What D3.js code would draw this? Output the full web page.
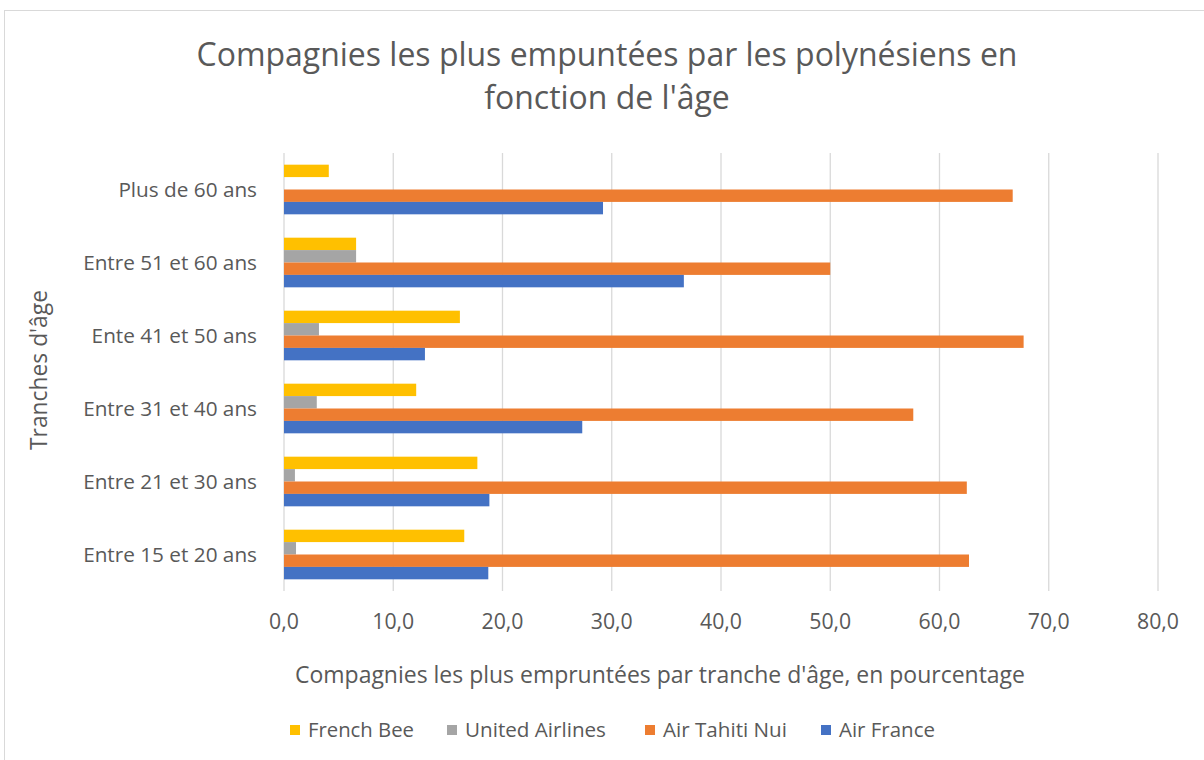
<!DOCTYPE html>
<html>
<head>
<meta charset="utf-8">
<script src="https://cdn.jsdelivr.net/npm/d3@7"></script>
<style>
  body { margin: 0; background: #fff; }
  text { font-family: "Open Sans", sans-serif; fill: #595959; }
</style>
</head>
<body>
<div id="chart"></div>
<script>
// categories, top to bottom as shown
const categories = ["Plus de 60 ans", "Entre 51 et 60 ans", "Ente 41 et 50 ans",
                    "Entre 31 et 40 ans", "Entre 21 et 30 ans", "Entre 15 et 20 ans"];
const seriesNames = ["French Bee", "United Airlines", "Air Tahiti Nui", "Air France"];
const frenchBee      = [4.1, 6.6, 16.1, 12.1, 17.7, 16.5];
const unitedAirlines = [0, 6.6, 3.2, 3.0, 1.0, 1.1];
const airTahitiNui   = [66.7, 50.0, 67.7, 57.6, 62.5, 62.7];
const airFrance      = [29.2, 36.6, 12.9, 27.3, 18.8, 18.7];
const xTicks = [0, 10, 20, 30, 40, 50, 60, 70, 80];
const colors = ["#FFC000", "#A5A5A5", "#ED7D31", "#4472C4"];

const W = 1204, H = 760;
const seriesValues = [frenchBee, unitedAirlines, airTahitiNui, airFrance];

const svg = d3.select("#chart").append("svg").attr("width", W).attr("height", H);

// chart border
svg.append("rect").attr("x", 4.5).attr("y", 10.5).attr("width", W).attr("height", H)
  .attr("fill", "none").attr("stroke", "#D9D9D9");

// shrink/grow font so that text spans a given width
function fit(sel, width) {
  const fs = parseFloat(sel.style("font-size"));
  const w = sel.node().getComputedTextLength();
  sel.style("font-size", (fs * width / w) + "px");
  return fs * width / w;
}

var x = d3.scaleLinear().domain([0, 80]).range([284, 1158]);
var y = d3.scaleBand().domain(categories).range([153, 591]).paddingInner(0.32).paddingOuter(0.16);
var yInner = d3.scaleBand().domain(seriesNames).range([0, y.bandwidth()]);

// gridlines
svg.append("g").selectAll("line").data(xTicks).join("line")
  .attr("x1", d => x(d)).attr("x2", d => x(d))
  .attr("y1", 153).attr("y2", 591)
  .attr("stroke", "#D9D9D9").attr("stroke-width", 1.3);

// bars
categories.forEach((c, ci) => {
  seriesNames.forEach((s, si) => {
    const v = seriesValues[si][ci];
    if (v <= 0) return;
    svg.append("rect")
      .attr("x", x(0))
      .attr("y", y(c) + yInner(s))
      .attr("width", x(v) - x(0))
      .attr("height", yInner.bandwidth())
      .attr("fill", colors[si]);
  });
});

// x tick labels
var tickG = svg.append("g");
var t0 = tickG.append("text").text("80,0").style("font-size", "19px");
var tickSize = fit(t0, 42);
t0.remove();
tickG.selectAll("text").data(xTicks).join("text")
  .attr("x", d => x(d)).attr("y", 629)
  .attr("text-anchor", "middle")
  .style("font-size", tickSize + "px")
  .text(d => d3.format(".1f")(d).replace(".", ","));

// category labels
var catG = svg.append("g");
var c0 = catG.append("text").text("Entre 51 et 60 ans").style("font-size", "19px");
var catSize = fit(c0, 174);
c0.remove();
catG.selectAll("text").data(categories).join("text")
  .attr("x", 257)
  .attr("y", d => y(d) + y.bandwidth() / 2)
  .attr("dy", "0.35em")
  .attr("text-anchor", "end")
  .style("font-size", catSize + "px")
  .text(d => d);

// title
var title1 = svg.append("text").attr("x", 607).attr("y", 66).attr("text-anchor", "middle")
  .style("font-size", "30px").text("Compagnies les plus empuntées par les polynésiens en");
var titleSize = fit(title1, 821);
svg.append("text").attr("x", 607).attr("y", 109).attr("text-anchor", "middle")
  .style("font-size", titleSize + "px").text("fonction de l'âge");

// axis titles
var xTitle = svg.append("text").attr("x", 660).attr("y", 683).attr("text-anchor", "middle")
  .style("font-size", "20px").text("Compagnies les plus empruntées par tranche d'âge, en pourcentage");
fit(xTitle, 730);

var yTitle = svg.append("text").attr("transform", "translate(47,370) rotate(-90)")
  .attr("text-anchor", "middle").style("font-size", "20px").text("Tranches d'âge");
fit(yTitle, 160);

// legend
const legendX = [290, 447, 645, 821];
const legendW = [106, 141, 124, 96];
var lg = svg.append("g");
seriesNames.forEach((s, i) => {
  lg.append("rect").attr("x", legendX[i]).attr("y", 725).attr("width", 10).attr("height", 10)
    .attr("fill", colors[i]);
  var t = lg.append("text").attr("x", legendX[i] + 18).attr("y", 737)
    .style("font-size", "19px").text(s);
  fit(t, legendW[i]);
});
</script>
</body>
</html>
